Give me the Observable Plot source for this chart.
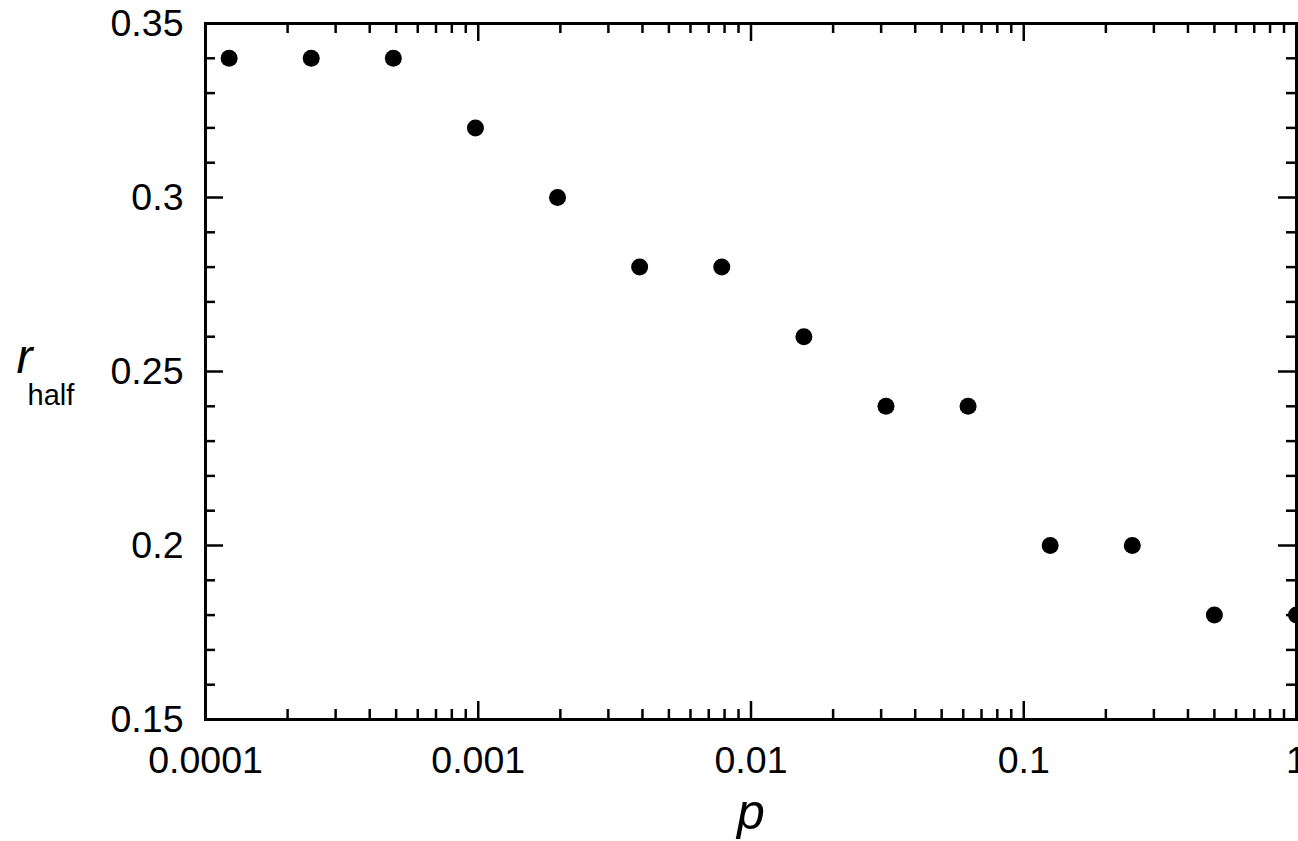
<!DOCTYPE html>
<html>
<head>
<meta charset="utf-8">
<script src="https://cdn.jsdelivr.net/npm/d3@7"></script>
<script src="https://cdn.jsdelivr.net/npm/@observablehq/plot@0.6"></script>
<style>
  html, body { margin: 0; padding: 0; background: #fff; overflow: hidden; }
  #chart svg { display: block; }
</style>
</head>
<body>
<div id="chart"></div>
<script>
// Data: p (rewiring probability, powers of two) and r_half
const pValues = [1/8192, 1/4096, 1/2048, 1/1024, 1/512, 1/256, 1/128, 1/64, 1/32, 1/16, 1/8, 1/4, 1/2, 1];
const rHalf   = [0.34, 0.34, 0.34, 0.32, 0.30, 0.28, 0.28, 0.26, 0.24, 0.24, 0.20, 0.20, 0.18, 0.18];

// Tick definitions
const xMajorTicks = [0.0001, 0.001, 0.01, 0.1, 1];
const xTickLabels = ["0.0001", "0.001", "0.01", "0.1", "1"];
const xMinorMultipliers = [2, 3, 4, 5, 6, 7, 8, 9];
const xDecades = [0.0001, 0.001, 0.01, 0.1];
const yMajorTicks = [0.15, 0.2, 0.25, 0.3, 0.35];
const yTickLabels = ["0.15", "0.2", "0.25", "0.3", "0.35"];
const yMinorTicks = [0.16, 0.17, 0.18, 0.19, 0.21, 0.22, 0.23, 0.24, 0.26, 0.27, 0.28, 0.29, 0.31, 0.32, 0.33, 0.34];

const xMinorTicks = xDecades.flatMap(d => xMinorMultipliers.map(m => d * m));
const points = pValues.map((p, i) => ({p, r: rHalf[i]}));

const W = 1298, H = 841;
const mL = 205, mR = 2, mT = 23, mB = 122;
const pw = W - mL - mR, ph = H - mT - mB;
const majorLen = 18, minorLen = 10;
const font = "'Liberation Sans', Arial, Helvetica, sans-serif";
const tickStyle = {stroke: "black", strokeWidth: 2.5};

const chart = Plot.plot({
  width: W,
  height: H,
  marginLeft: mL,
  marginRight: mR,
  marginTop: mT,
  marginBottom: mB,
  style: {fontFamily: font, background: "white", color: "black"},
  x: {type: "log", domain: [0.0001, 1], axis: null},
  y: {domain: [0.15, 0.35], axis: null},
  marks: [
    // x ticks (bottom and top, inward)
    Plot.tickX(xMajorTicks, {x: d => d, insetTop: ph - majorLen, ...tickStyle}),
    Plot.tickX(xMajorTicks, {x: d => d, insetBottom: ph - majorLen, ...tickStyle}),
    Plot.tickX(xMinorTicks, {x: d => d, insetTop: ph - minorLen, ...tickStyle}),
    Plot.tickX(xMinorTicks, {x: d => d, insetBottom: ph - minorLen, ...tickStyle}),
    // y ticks (left and right, inward)
    Plot.tickY(yMajorTicks, {y: d => d, insetRight: pw - majorLen, ...tickStyle}),
    Plot.tickY(yMajorTicks, {y: d => d, insetLeft: pw - majorLen, ...tickStyle}),
    Plot.tickY(yMinorTicks, {y: d => d, insetRight: pw - minorLen, ...tickStyle}),
    Plot.tickY(yMinorTicks, {y: d => d, insetLeft: pw - minorLen, ...tickStyle}),
    Plot.frame({stroke: "black", strokeWidth: 3}),
    // tick labels
    Plot.text(xMajorTicks, {x: d => d, text: (d, i) => xTickLabels[i], frameAnchor: "bottom", lineAnchor: "top", dy: 27, fontSize: 37.5, fill: "black", textAnchor: "middle"}),
    Plot.text(yMajorTicks, {y: d => d, text: (d, i) => yTickLabels[i], frameAnchor: "left", dx: -22, textAnchor: "end", lineAnchor: "middle", fontSize: 37.5, fill: "black"}),
    // axis labels
    Plot.text(["p"], {frameAnchor: "bottom", text: d => d, dy: 109, lineAnchor: "bottom", fontSize: 50, fontStyle: "italic", fill: "black"}),
    Plot.text(["r"], {frameAnchor: "left", text: d => d, dx: -189, dy: 1, textAnchor: "start", lineAnchor: "bottom", fontSize: 48, fontStyle: "italic", fill: "black"}),
    Plot.text(["half"], {frameAnchor: "left", text: d => d, dx: -178, dy: 33, textAnchor: "start", lineAnchor: "bottom", fontSize: 29, fill: "black"}),
    // data
    Plot.dot(points, {x: "p", y: "r", r: 8.5, fill: "black", stroke: "none"})
  ]
});
document.getElementById("chart").appendChild(chart);
</script>
</body>
</html>
